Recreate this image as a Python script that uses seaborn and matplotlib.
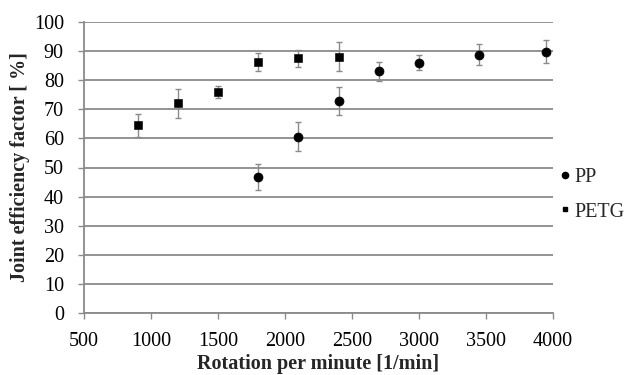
import matplotlib
matplotlib.use("Agg")
import matplotlib.pyplot as plt
import seaborn as sns
import pandas as pd
from matplotlib.lines import Line2D

pp_rpm = [1800, 2100, 2400, 2700, 3000, 3450, 3950]
pp_val = [46.8, 60.5, 72.8, 83.0, 86.0, 88.8, 89.8]
pp_err = [4.4, 5.0, 4.8, 3.3, 2.6, 3.6, 3.9]

petg_rpm = [900, 1200, 1500, 1800, 2100, 2400]
petg_val = [64.5, 72.0, 76.0, 86.3, 87.5, 88.0]
petg_err = [4.0, 5.0, 2.0, 3.0, 3.0, 5.0]

sns.set_theme(style="white")
plt.rcParams['font.family'] = ['Liberation Serif', 'DejaVu Serif']

df = pd.DataFrame({
    "rpm": pp_rpm + petg_rpm,
    "val": pp_val + petg_val,
    "mat": ["PP"] * len(pp_rpm) + ["PETG"] * len(petg_rpm),
})

fig = plt.figure(figsize=(6.32, 3.75), dpi=100)
ax = fig.add_axes([84/632, 1-313/375, (553-84)/632, (313-22)/375])

grey = "#8a8a8a"
ax.errorbar(pp_rpm, pp_val, yerr=pp_err, fmt="none", ecolor=grey, elinewidth=1.0, capsize=2.5, capthick=1.0, zorder=2)
ax.errorbar(petg_rpm, petg_val, yerr=petg_err, fmt="none", ecolor=grey, elinewidth=1.0, capsize=2.5, capthick=1.0, zorder=2)

sub_pp = df[df.mat == "PP"]
sub_petg = df[df.mat == "PETG"]
sns.scatterplot(data=sub_pp, x="rpm", y="val", marker="o", s=42, color="black", edgecolor="black", ax=ax, zorder=3, legend=False)
sns.scatterplot(data=sub_petg, x="rpm", y="val", marker="s", s=26, color="black", edgecolor="black", ax=ax, zorder=3, legend=False)

ax.set_xlim(500, 4000)
ax.set_ylim(0, 100)
ax.set_xticks(range(500, 4001, 500))
ax.set_yticks(range(0, 101, 10))
ax.yaxis.grid(True, color=grey, linewidth=1.3)
ax.xaxis.grid(False)
ax.set_axisbelow(True)
for s in ["top", "right"]:
    ax.spines[s].set_visible(False)
for s in ["left", "bottom"]:
    ax.spines[s].set_color(grey)
    ax.spines[s].set_linewidth(1.3)
ax.tick_params(axis="both", which="major", length=4.5, width=1.0, color=grey, labelsize=14.5, direction="out", labelcolor="black")
ax.tick_params(axis="x", pad=9, bottom=True)
ax.tick_params(axis="y", pad=10, left=True)

ax.set_xlabel("Rotation per minute [1/min]", fontsize=14.5, fontweight="bold", labelpad=2.5)
ax.set_ylabel("Joint efficiency factor [ %]", fontsize=14.5, fontweight="bold", labelpad=3)

handles = [
    Line2D([], [], marker="o", linestyle="none", color="black", markersize=4.5),
    Line2D([], [], marker="s", linestyle="none", color="black", markersize=3.5),
]
ax.legend(handles, ["PP", "PETG"], loc="center left", bbox_to_anchor=((557 - 84) / 469, 0.406),
          frameon=False, fontsize=14.5, handletextpad=0.05, handlelength=0.8, labelspacing=0.75,
          borderpad=0, borderaxespad=0)

fig.savefig("out.png", dpi=100)
